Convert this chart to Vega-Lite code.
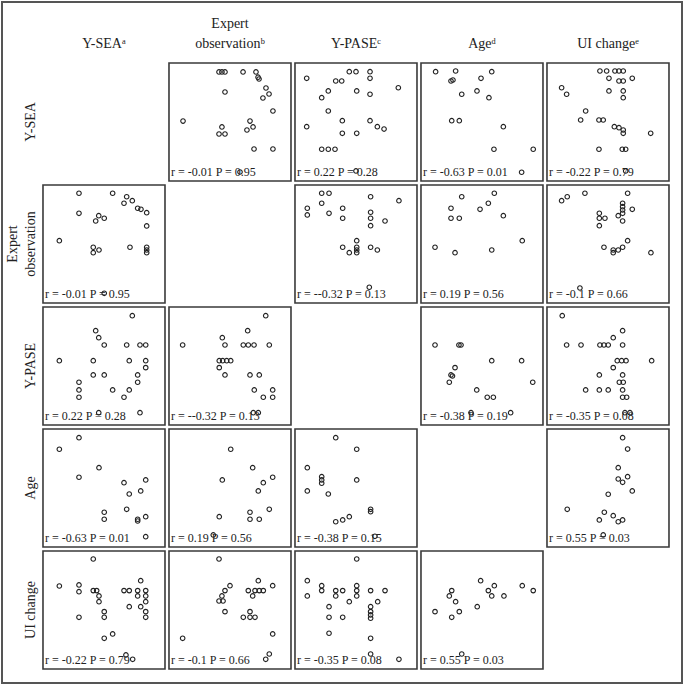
{
  "$schema": "https://vega.github.io/schema/vega-lite/v6.json",
  "width": 680,
  "height": 681,
  "autosize": {"type": "none"},
  "padding": {"left": 2, "top": 2, "right": 3, "bottom": 2},
  "background": "white",
  "resolve": {"scale": {"xOffset": "independent", "yOffset": "independent"}},
  "config": {
    "view": {"stroke": "#555555", "strokeWidth": 2},
    "font": "Liberation Serif",
    "axisX": {
      "orient": "top", "offset": -61, "domain": false, "ticks": false, "grid": false, "title": null,
      "labelAngle": 0, "labelAlign": "center", "labelBaseline": "bottom", "labelPadding": 33,
      "labelFont": "Liberation Serif", "labelFontSize": 14, "labelColor": "#222222", "labelLineHeight": 20,
      "labelOverlap": false, "labelLimit": 0
    },
    "axisY": {
      "orient": "left", "offset": -41, "domain": false, "ticks": false, "grid": false, "title": null,
      "labelAngle": -90, "labelAlign": "center", "labelBaseline": "bottom", "labelPadding": 24,
      "labelFont": "Liberation Serif", "labelFontSize": 14, "labelColor": "#222222", "labelLineHeight": 18,
      "labelOverlap": false, "labelLimit": 0
    }
  },
  "datasets": {
    "panels": [
      {"row": 0, "col": 1, "label": "r = -0.01 P = 0.95"},
      {"row": 0, "col": 2, "label": "r = 0.22 P = 0.28"},
      {"row": 0, "col": 3, "label": "r = -0.63 P = 0.01"},
      {"row": 0, "col": 4, "label": "r = -0.22 P = 0.79"},
      {"row": 1, "col": 0, "label": "r = -0.01 P = 0.95"},
      {"row": 1, "col": 2, "label": "r = --0.32 P = 0.13"},
      {"row": 1, "col": 3, "label": "r = 0.19 P = 0.56"},
      {"row": 1, "col": 4, "label": "r = -0.1 P = 0.66"},
      {"row": 2, "col": 0, "label": "r = 0.22 P = 0.28"},
      {"row": 2, "col": 1, "label": "r = --0.32 P = 0.13"},
      {"row": 2, "col": 3, "label": "r = -0.38 P = 0.19"},
      {"row": 2, "col": 4, "label": "r = -0.35 P = 0.08"},
      {"row": 3, "col": 0, "label": "r = -0.63 P = 0.01"},
      {"row": 3, "col": 1, "label": "r = 0.19 P = 0.56"},
      {"row": 3, "col": 2, "label": "r = -0.38 P = 0.15"},
      {"row": 3, "col": 4, "label": "r = 0.55 P = 0.03"},
      {"row": 4, "col": 0, "label": "r = -0.22 P = 0.79"},
      {"row": 4, "col": 1, "label": "r = -0.1 P = 0.66"},
      {"row": 4, "col": 2, "label": "r = -0.35 P = 0.08"},
      {"row": 4, "col": 3, "label": "r = 0.55 P = 0.03"}
    ],
    "pts": [
      {"row":0,"col":1,"x":0.41,"y":0.924},{"row":0,"col":1,"x":0.434,"y":0.924},{"row":0,"col":1,"x":0.459,"y":0.924},{"row":0,"col":1,"x":0.607,"y":0.924},{"row":0,"col":1,"x":0.713,"y":0.924},{"row":0,"col":1,"x":0.73,"y":0.88},{"row":0,"col":1,"x":0.738,"y":0.864},{"row":0,"col":1,"x":0.459,"y":0.754},{"row":0,"col":1,"x":0.795,"y":0.788},{"row":0,"col":1,"x":0.77,"y":0.703},{"row":0,"col":1,"x":0.82,"y":0.737},{"row":0,"col":1,"x":0.852,"y":0.593},{"row":0,"col":1,"x":0.115,"y":0.508},{"row":0,"col":1,"x":0.664,"y":0.508},{"row":0,"col":1,"x":0.434,"y":0.458},{"row":0,"col":1,"x":0.41,"y":0.398},{"row":0,"col":1,"x":0.459,"y":0.398},{"row":0,"col":1,"x":0.639,"y":0.432},{"row":0,"col":1,"x":0.689,"y":0.458},{"row":0,"col":1,"x":0.697,"y":0.271},{"row":0,"col":1,"x":0.852,"y":0.271},{"row":0,"col":1,"x":0.582,"y":0.076},
      {"row":0,"col":2,"x":0.096,"y":0.87},{"row":0,"col":2,"x":0.334,"y":0.847},{"row":0,"col":2,"x":0.383,"y":0.847},{"row":0,"col":2,"x":0.445,"y":0.926},{"row":0,"col":2,"x":0.5,"y":0.926},{"row":0,"col":2,"x":0.615,"y":0.926},{"row":0,"col":2,"x":0.615,"y":0.87},{"row":0,"col":2,"x":0.847,"y":0.79},{"row":0,"col":2,"x":0.273,"y":0.763},{"row":0,"col":2,"x":0.219,"y":0.706},{"row":0,"col":2,"x":0.506,"y":0.763},{"row":0,"col":2,"x":0.615,"y":0.735},{"row":0,"col":2,"x":0.273,"y":0.593},{"row":0,"col":2,"x":0.096,"y":0.46},{"row":0,"col":2,"x":0.388,"y":0.511},{"row":0,"col":2,"x":0.615,"y":0.511},{"row":0,"col":2,"x":0.675,"y":0.46},{"row":0,"col":2,"x":0.73,"y":0.44},{"row":0,"col":2,"x":0.388,"y":0.404},{"row":0,"col":2,"x":0.506,"y":0.404},{"row":0,"col":2,"x":0.219,"y":0.269},{"row":0,"col":2,"x":0.273,"y":0.269},{"row":0,"col":2,"x":0.328,"y":0.269},{"row":0,"col":2,"x":0.5,"y":0.085},
      {"row":0,"col":3,"x":0.12,"y":0.926},{"row":0,"col":3,"x":0.284,"y":0.932},{"row":0,"col":3,"x":0.246,"y":0.847},{"row":0,"col":3,"x":0.262,"y":0.856},{"row":0,"col":3,"x":0.58,"y":0.926},{"row":0,"col":3,"x":0.492,"y":0.87},{"row":0,"col":3,"x":0.334,"y":0.735},{"row":0,"col":3,"x":0.459,"y":0.763},{"row":0,"col":3,"x":0.557,"y":0.706},{"row":0,"col":3,"x":0.252,"y":0.511},{"row":0,"col":3,"x":0.314,"y":0.511},{"row":0,"col":3,"x":0.675,"y":0.46},{"row":0,"col":3,"x":0.598,"y":0.269},{"row":0,"col":3,"x":0.92,"y":0.269},{"row":0,"col":3,"x":0.825,"y":0.074},
      {"row":0,"col":4,"x":0.434,"y":0.932},{"row":0,"col":4,"x":0.489,"y":0.932},{"row":0,"col":4,"x":0.557,"y":0.932},{"row":0,"col":4,"x":0.59,"y":0.932},{"row":0,"col":4,"x":0.625,"y":0.932},{"row":0,"col":4,"x":0.508,"y":0.87},{"row":0,"col":4,"x":0.59,"y":0.847},{"row":0,"col":4,"x":0.625,"y":0.847},{"row":0,"col":4,"x":0.699,"y":0.87},{"row":0,"col":4,"x":0.12,"y":0.79},{"row":0,"col":4,"x":0.161,"y":0.735},{"row":0,"col":4,"x":0.508,"y":0.763},{"row":0,"col":4,"x":0.625,"y":0.763},{"row":0,"col":4,"x":0.625,"y":0.706},{"row":0,"col":4,"x":0.317,"y":0.593},{"row":0,"col":4,"x":0.276,"y":0.517},{"row":0,"col":4,"x":0.426,"y":0.517},{"row":0,"col":4,"x":0.461,"y":0.517},{"row":0,"col":4,"x":0.552,"y":0.46},{"row":0,"col":4,"x":0.59,"y":0.452},{"row":0,"col":4,"x":0.625,"y":0.432},{"row":0,"col":4,"x":0.625,"y":0.404},{"row":0,"col":4,"x":0.85,"y":0.404},{"row":0,"col":4,"x":0.426,"y":0.269},{"row":0,"col":4,"x":0.617,"y":0.269},{"row":0,"col":4,"x":0.645,"y":0.269},{"row":0,"col":4,"x":0.645,"y":0.085},
      {"row":1,"col":0,"x":0.295,"y":0.93},{"row":1,"col":0,"x":0.571,"y":0.93},{"row":1,"col":0,"x":0.686,"y":0.9},{"row":1,"col":0,"x":0.664,"y":0.845},{"row":1,"col":0,"x":0.732,"y":0.867},{"row":1,"col":0,"x":0.776,"y":0.803},{"row":1,"col":0,"x":0.803,"y":0.794},{"row":1,"col":0,"x":0.85,"y":0.765},{"row":1,"col":0,"x":0.295,"y":0.76},{"row":1,"col":0,"x":0.457,"y":0.74},{"row":1,"col":0,"x":0.432,"y":0.695},{"row":1,"col":0,"x":0.502,"y":0.718},{"row":1,"col":0,"x":0.85,"y":0.653},{"row":1,"col":0,"x":0.134,"y":0.528},{"row":1,"col":0,"x":0.412,"y":0.472},{"row":1,"col":0,"x":0.459,"y":0.449},{"row":1,"col":0,"x":0.412,"y":0.426},{"row":1,"col":0,"x":0.713,"y":0.472},{"row":1,"col":0,"x":0.85,"y":0.472},{"row":1,"col":0,"x":0.85,"y":0.449},{"row":1,"col":0,"x":0.85,"y":0.426},{"row":1,"col":0,"x":0.502,"y":0.082},
      {"row":1,"col":2,"x":0.219,"y":0.93},{"row":1,"col":2,"x":0.279,"y":0.93},{"row":1,"col":2,"x":0.219,"y":0.845},{"row":1,"col":2,"x":0.62,"y":0.9},{"row":1,"col":2,"x":0.852,"y":0.867},{"row":1,"col":2,"x":0.101,"y":0.803},{"row":1,"col":2,"x":0.101,"y":0.746},{"row":1,"col":2,"x":0.279,"y":0.76},{"row":1,"col":2,"x":0.391,"y":0.803},{"row":1,"col":2,"x":0.391,"y":0.718},{"row":1,"col":2,"x":0.62,"y":0.769},{"row":1,"col":2,"x":0.62,"y":0.718},{"row":1,"col":2,"x":0.62,"y":0.655},{"row":1,"col":2,"x":0.738,"y":0.695},{"row":1,"col":2,"x":0.506,"y":0.528},{"row":1,"col":2,"x":0.391,"y":0.472},{"row":1,"col":2,"x":0.445,"y":0.426},{"row":1,"col":2,"x":0.506,"y":0.472},{"row":1,"col":2,"x":0.506,"y":0.449},{"row":1,"col":2,"x":0.506,"y":0.426},{"row":1,"col":2,"x":0.62,"y":0.472},{"row":1,"col":2,"x":0.675,"y":0.449},{"row":1,"col":2,"x":0.609,"y":0.133},
      {"row":1,"col":3,"x":0.334,"y":0.9},{"row":1,"col":3,"x":0.601,"y":0.93},{"row":1,"col":3,"x":0.246,"y":0.803},{"row":1,"col":3,"x":0.484,"y":0.794},{"row":1,"col":3,"x":0.552,"y":0.845},{"row":1,"col":3,"x":0.246,"y":0.718},{"row":1,"col":3,"x":0.314,"y":0.718},{"row":1,"col":3,"x":0.675,"y":0.74},{"row":1,"col":3,"x":0.115,"y":0.472},{"row":1,"col":3,"x":0.279,"y":0.426},{"row":1,"col":3,"x":0.58,"y":0.449},{"row":1,"col":3,"x":0.83,"y":0.528},
      {"row":1,"col":4,"x":0.12,"y":0.867},{"row":1,"col":4,"x":0.166,"y":0.9},{"row":1,"col":4,"x":0.311,"y":0.93},{"row":1,"col":4,"x":0.661,"y":0.93},{"row":1,"col":4,"x":0.62,"y":0.845},{"row":1,"col":4,"x":0.62,"y":0.816},{"row":1,"col":4,"x":0.62,"y":0.788},{"row":1,"col":4,"x":0.62,"y":0.76},{"row":1,"col":4,"x":0.699,"y":0.794},{"row":1,"col":4,"x":0.429,"y":0.76},{"row":1,"col":4,"x":0.429,"y":0.718},{"row":1,"col":4,"x":0.475,"y":0.718},{"row":1,"col":4,"x":0.429,"y":0.655},{"row":1,"col":4,"x":0.584,"y":0.74},{"row":1,"col":4,"x":0.62,"y":0.695},{"row":1,"col":4,"x":0.661,"y":0.528},{"row":1,"col":4,"x":0.467,"y":0.472},{"row":1,"col":4,"x":0.543,"y":0.449},{"row":1,"col":4,"x":0.543,"y":0.426},{"row":1,"col":4,"x":0.584,"y":0.449},{"row":1,"col":4,"x":0.62,"y":0.472},{"row":1,"col":4,"x":0.852,"y":0.426},{"row":1,"col":4,"x":0.27,"y":0.127},
      {"row":2,"col":0,"x":0.732,"y":0.926},{"row":2,"col":0,"x":0.432,"y":0.799},{"row":2,"col":0,"x":0.457,"y":0.74},{"row":2,"col":0,"x":0.502,"y":0.678},{"row":2,"col":0,"x":0.686,"y":0.678},{"row":2,"col":0,"x":0.795,"y":0.678},{"row":2,"col":0,"x":0.842,"y":0.678},{"row":2,"col":0,"x":0.134,"y":0.545},{"row":2,"col":0,"x":0.412,"y":0.545},{"row":2,"col":0,"x":0.707,"y":0.545},{"row":2,"col":0,"x":0.842,"y":0.545},{"row":2,"col":0,"x":0.842,"y":0.486},{"row":2,"col":0,"x":0.412,"y":0.424},{"row":2,"col":0,"x":0.502,"y":0.424},{"row":2,"col":0,"x":0.776,"y":0.424},{"row":2,"col":0,"x":0.776,"y":0.362},{"row":2,"col":0,"x":0.295,"y":0.362},{"row":2,"col":0,"x":0.295,"y":0.297},{"row":2,"col":0,"x":0.295,"y":0.235},{"row":2,"col":0,"x":0.571,"y":0.297},{"row":2,"col":0,"x":0.707,"y":0.297},{"row":2,"col":0,"x":0.664,"y":0.235},{"row":2,"col":0,"x":0.795,"y":0.104},{"row":2,"col":0,"x":0.457,"y":0.104},
      {"row":2,"col":1,"x":0.793,"y":0.926},{"row":2,"col":1,"x":0.645,"y":0.799},{"row":2,"col":1,"x":0.437,"y":0.74},{"row":2,"col":1,"x":0.112,"y":0.678},{"row":2,"col":1,"x":0.459,"y":0.678},{"row":2,"col":1,"x":0.609,"y":0.678},{"row":2,"col":1,"x":0.65,"y":0.678},{"row":2,"col":1,"x":0.697,"y":0.678},{"row":2,"col":1,"x":0.822,"y":0.678},{"row":2,"col":1,"x":0.412,"y":0.545},{"row":2,"col":1,"x":0.44,"y":0.545},{"row":2,"col":1,"x":0.473,"y":0.545},{"row":2,"col":1,"x":0.506,"y":0.545},{"row":2,"col":1,"x":0.412,"y":0.486},{"row":2,"col":1,"x":0.459,"y":0.424},{"row":2,"col":1,"x":0.664,"y":0.424},{"row":2,"col":1,"x":0.74,"y":0.424},{"row":2,"col":1,"x":0.699,"y":0.297},{"row":2,"col":1,"x":0.85,"y":0.297},{"row":2,"col":1,"x":0.773,"y":0.235},{"row":2,"col":1,"x":0.85,"y":0.235},{"row":2,"col":1,"x":0.691,"y":0.104},{"row":2,"col":1,"x":0.732,"y":0.104},
      {"row":2,"col":3,"x":0.115,"y":0.678},{"row":2,"col":3,"x":0.311,"y":0.678},{"row":2,"col":3,"x":0.328,"y":0.678},{"row":2,"col":3,"x":0.58,"y":0.545},{"row":2,"col":3,"x":0.825,"y":0.545},{"row":2,"col":3,"x":0.279,"y":0.486},{"row":2,"col":3,"x":0.246,"y":0.424},{"row":2,"col":3,"x":0.258,"y":0.415},{"row":2,"col":3,"x":0.232,"y":0.362},{"row":2,"col":3,"x":0.916,"y":0.362},{"row":2,"col":3,"x":0.457,"y":0.297},{"row":2,"col":3,"x":0.543,"y":0.235},{"row":2,"col":3,"x":0.593,"y":0.235},{"row":2,"col":3,"x":0.41,"y":0.104},{"row":2,"col":3,"x":0.735,"y":0.104},
      {"row":2,"col":4,"x":0.125,"y":0.926},{"row":2,"col":4,"x":0.62,"y":0.799},{"row":2,"col":4,"x":0.543,"y":0.74},{"row":2,"col":4,"x":0.161,"y":0.678},{"row":2,"col":4,"x":0.279,"y":0.678},{"row":2,"col":4,"x":0.434,"y":0.678},{"row":2,"col":4,"x":0.467,"y":0.678},{"row":2,"col":4,"x":0.502,"y":0.678},{"row":2,"col":4,"x":0.62,"y":0.678},{"row":2,"col":4,"x":0.576,"y":0.545},{"row":2,"col":4,"x":0.612,"y":0.545},{"row":2,"col":4,"x":0.648,"y":0.545},{"row":2,"col":4,"x":0.858,"y":0.545},{"row":2,"col":4,"x":0.543,"y":0.486},{"row":2,"col":4,"x":0.429,"y":0.424},{"row":2,"col":4,"x":0.62,"y":0.424},{"row":2,"col":4,"x":0.593,"y":0.362},{"row":2,"col":4,"x":0.625,"y":0.362},{"row":2,"col":4,"x":0.317,"y":0.297},{"row":2,"col":4,"x":0.429,"y":0.297},{"row":2,"col":4,"x":0.502,"y":0.297},{"row":2,"col":4,"x":0.62,"y":0.297},{"row":2,"col":4,"x":0.62,"y":0.235},{"row":2,"col":4,"x":0.653,"y":0.235},{"row":2,"col":4,"x":0.639,"y":0.104},{"row":2,"col":4,"x":0.68,"y":0.104},
      {"row":3,"col":0,"x":0.295,"y":0.926},{"row":3,"col":0,"x":0.134,"y":0.828},{"row":3,"col":0,"x":0.459,"y":0.672},{"row":3,"col":0,"x":0.295,"y":0.591},{"row":3,"col":0,"x":0.664,"y":0.545},{"row":3,"col":0,"x":0.842,"y":0.568},{"row":3,"col":0,"x":0.707,"y":0.449},{"row":3,"col":0,"x":0.801,"y":0.475},{"row":3,"col":0,"x":0.502,"y":0.294},{"row":3,"col":0,"x":0.502,"y":0.235},{"row":3,"col":0,"x":0.686,"y":0.319},{"row":3,"col":0,"x":0.776,"y":0.235},{"row":3,"col":0,"x":0.776,"y":0.22},{"row":3,"col":0,"x":0.842,"y":0.257},{"row":3,"col":0,"x":0.842,"y":0.087},
      {"row":3,"col":1,"x":0.506,"y":0.828},{"row":3,"col":1,"x":0.437,"y":0.568},{"row":3,"col":1,"x":0.686,"y":0.672},{"row":3,"col":1,"x":0.85,"y":0.591},{"row":3,"col":1,"x":0.773,"y":0.545},{"row":3,"col":1,"x":0.732,"y":0.475},{"row":3,"col":1,"x":0.412,"y":0.257},{"row":3,"col":1,"x":0.664,"y":0.294},{"row":3,"col":1,"x":0.664,"y":0.235},{"row":3,"col":1,"x":0.74,"y":0.235},{"row":3,"col":1,"x":0.822,"y":0.319},{"row":3,"col":1,"x":0.363,"y":0.102},
      {"row":3,"col":2,"x":0.334,"y":0.926},{"row":3,"col":2,"x":0.506,"y":0.828},{"row":3,"col":2,"x":0.101,"y":0.672},{"row":3,"col":2,"x":0.219,"y":0.596},{"row":3,"col":2,"x":0.219,"y":0.568},{"row":3,"col":2,"x":0.219,"y":0.54},{"row":3,"col":2,"x":0.506,"y":0.568},{"row":3,"col":2,"x":0.101,"y":0.475},{"row":3,"col":2,"x":0.273,"y":0.449},{"row":3,"col":2,"x":0.62,"y":0.319},{"row":3,"col":2,"x":0.62,"y":0.299},{"row":3,"col":2,"x":0.334,"y":0.214},{"row":3,"col":2,"x":0.391,"y":0.229},{"row":3,"col":2,"x":0.445,"y":0.257},{"row":3,"col":2,"x":0.655,"y":0.09},
      {"row":3,"col":4,"x":0.62,"y":0.926},{"row":3,"col":4,"x":0.661,"y":0.83},{"row":3,"col":4,"x":0.584,"y":0.672},{"row":3,"col":4,"x":0.584,"y":0.576},{"row":3,"col":4,"x":0.62,"y":0.548},{"row":3,"col":4,"x":0.661,"y":0.596},{"row":3,"col":4,"x":0.699,"y":0.475},{"row":3,"col":4,"x":0.502,"y":0.447},{"row":3,"col":4,"x":0.166,"y":0.319},{"row":3,"col":4,"x":0.47,"y":0.294},{"row":3,"col":4,"x":0.429,"y":0.229},{"row":3,"col":4,"x":0.543,"y":0.265},{"row":3,"col":4,"x":0.584,"y":0.214},{"row":3,"col":4,"x":0.62,"y":0.229},{"row":3,"col":4,"x":0.461,"y":0.102},
      {"row":4,"col":0,"x":0.412,"y":0.932},{"row":4,"col":0,"x":0.134,"y":0.703},{"row":4,"col":0,"x":0.295,"y":0.712},{"row":4,"col":0,"x":0.295,"y":0.655},{"row":4,"col":0,"x":0.412,"y":0.664},{"row":4,"col":0,"x":0.44,"y":0.664},{"row":4,"col":0,"x":0.459,"y":0.619},{"row":4,"col":0,"x":0.459,"y":0.57},{"row":4,"col":0,"x":0.295,"y":0.438},{"row":4,"col":0,"x":0.502,"y":0.486},{"row":4,"col":0,"x":0.502,"y":0.438},{"row":4,"col":0,"x":0.502,"y":0.26},{"row":4,"col":0,"x":0.571,"y":0.297},{"row":4,"col":0,"x":0.664,"y":0.664},{"row":4,"col":0,"x":0.707,"y":0.664},{"row":4,"col":0,"x":0.801,"y":0.748},{"row":4,"col":0,"x":0.776,"y":0.664},{"row":4,"col":0,"x":0.776,"y":0.619},{"row":4,"col":0,"x":0.842,"y":0.664},{"row":4,"col":0,"x":0.842,"y":0.619},{"row":4,"col":0,"x":0.842,"y":0.57},{"row":4,"col":0,"x":0.707,"y":0.528},{"row":4,"col":0,"x":0.801,"y":0.528},{"row":4,"col":0,"x":0.842,"y":0.486},{"row":4,"col":0,"x":0.842,"y":0.438},{"row":4,"col":0,"x":0.68,"y":0.119},{"row":4,"col":0,"x":0.735,"y":0.082},
      {"row":4,"col":1,"x":0.41,"y":0.932},{"row":4,"col":1,"x":0.5,"y":0.706},{"row":4,"col":1,"x":0.459,"y":0.664},{"row":4,"col":1,"x":0.434,"y":0.619},{"row":4,"col":1,"x":0.41,"y":0.576},{"row":4,"col":1,"x":0.443,"y":0.576},{"row":4,"col":1,"x":0.459,"y":0.486},{"row":4,"col":1,"x":0.732,"y":0.748},{"row":4,"col":1,"x":0.85,"y":0.706},{"row":4,"col":1,"x":0.65,"y":0.664},{"row":4,"col":1,"x":0.705,"y":0.664},{"row":4,"col":1,"x":0.74,"y":0.664},{"row":4,"col":1,"x":0.773,"y":0.664},{"row":4,"col":1,"x":0.686,"y":0.619},{"row":4,"col":1,"x":0.664,"y":0.486},{"row":4,"col":1,"x":0.609,"y":0.438},{"row":4,"col":1,"x":0.664,"y":0.438},{"row":4,"col":1,"x":0.705,"y":0.438},{"row":4,"col":1,"x":0.112,"y":0.26},{"row":4,"col":1,"x":0.85,"y":0.297},{"row":4,"col":1,"x":0.822,"y":0.127},{"row":4,"col":1,"x":0.793,"y":0.082},
      {"row":4,"col":2,"x":0.506,"y":0.932},{"row":4,"col":2,"x":0.101,"y":0.748},{"row":4,"col":2,"x":0.101,"y":0.619},{"row":4,"col":2,"x":0.219,"y":0.706},{"row":4,"col":2,"x":0.219,"y":0.664},{"row":4,"col":2,"x":0.334,"y":0.664},{"row":4,"col":2,"x":0.334,"y":0.619},{"row":4,"col":2,"x":0.391,"y":0.664},{"row":4,"col":2,"x":0.506,"y":0.706},{"row":4,"col":2,"x":0.506,"y":0.664},{"row":4,"col":2,"x":0.506,"y":0.619},{"row":4,"col":2,"x":0.62,"y":0.664},{"row":4,"col":2,"x":0.738,"y":0.664},{"row":4,"col":2,"x":0.678,"y":0.57},{"row":4,"col":2,"x":0.445,"y":0.57},{"row":4,"col":2,"x":0.279,"y":0.528},{"row":4,"col":2,"x":0.279,"y":0.438},{"row":4,"col":2,"x":0.391,"y":0.438},{"row":4,"col":2,"x":0.279,"y":0.303},{"row":4,"col":2,"x":0.62,"y":0.528},{"row":4,"col":2,"x":0.62,"y":0.486},{"row":4,"col":2,"x":0.62,"y":0.458},{"row":4,"col":2,"x":0.62,"y":0.43},{"row":4,"col":2,"x":0.62,"y":0.26},{"row":4,"col":2,"x":0.62,"y":0.127},{"row":4,"col":2,"x":0.852,"y":0.082},
      {"row":4,"col":3,"x":0.115,"y":0.486},{"row":4,"col":3,"x":0.252,"y":0.664},{"row":4,"col":3,"x":0.232,"y":0.619},{"row":4,"col":3,"x":0.284,"y":0.57},{"row":4,"col":3,"x":0.252,"y":0.438},{"row":4,"col":3,"x":0.314,"y":0.486},{"row":4,"col":3,"x":0.334,"y":0.127},{"row":4,"col":3,"x":0.461,"y":0.528},{"row":4,"col":3,"x":0.489,"y":0.748},{"row":4,"col":3,"x":0.552,"y":0.664},{"row":4,"col":3,"x":0.601,"y":0.706},{"row":4,"col":3,"x":0.58,"y":0.619},{"row":4,"col":3,"x":0.68,"y":0.619},{"row":4,"col":3,"x":0.83,"y":0.706},{"row":4,"col":3,"x":0.92,"y":0.664}
    ]
  },
  "layer": [
    {
      "data": {"name": "panels"},
      "mark": {"type": "rect", "filled": false, "stroke": "#3a3a3a", "strokeWidth": 1.6},
      "encoding": {
        "x": {
          "field": "col", "type": "ordinal",
          "scale": {"type": "band", "domain": [0, 1, 2, 3, 4], "paddingInner": 0.0317, "paddingOuter": 0.2143, "align": 0.759},
          "axis": {"labelExpr": "[['', 'Y-SEAᵃ'], ['Expert', 'observationᵇ'], ['', 'Y-PASEᶜ'], ['', 'Ageᵈ'], ['', 'UI changeᵉ']][datum.value]"}
        },
        "y": {
          "field": "row", "type": "ordinal",
          "scale": {"type": "band", "domain": [0, 1, 2, 3, 4], "paddingInner": 0.0328, "paddingOuter": 0.3074, "align": 0.813},
          "axis": {"labelExpr": "[['', 'Y-SEA'], ['Expert', 'observation'], ['', 'Y-PASE'], ['', 'Age'], ['', 'UI change']][datum.value]"}
        }
      }
    },
    {
      "data": {"name": "pts"},
      "mark": {"type": "point", "shape": "circle", "filled": false, "size": 21, "strokeWidth": 1.1, "color": "#222222", "opacity": 1},
      "encoding": {
        "x": {"field": "col", "type": "ordinal", "scale": {"type": "band"}, "axis": {"labelExpr": "[['', 'Y-SEAᵃ'], ['Expert', 'observationᵇ'], ['', 'Y-PASEᶜ'], ['', 'Ageᵈ'], ['', 'UI changeᵉ']][datum.value]"}},
        "xOffset": {"field": "x", "type": "quantitative", "scale": {"domain": [0, 1], "nice": false, "zero": false}},
        "y": {"field": "row", "type": "ordinal", "scale": {"type": "band"}, "axis": {"labelExpr": "[['', 'Y-SEA'], ['Expert', 'observation'], ['', 'Y-PASE'], ['', 'Age'], ['', 'UI change']][datum.value]"}},
        "yOffset": {"field": "y", "type": "quantitative", "scale": {"domain": [0, 1], "nice": false, "zero": false, "reverse": true}}
      }
    },
    {
      "data": {"name": "panels"},
      "mark": {"type": "text", "align": "left", "baseline": "alphabetic", "dx": 2, "dy": -5, "font": "Liberation Serif", "fontSize": 12, "color": "#222222"},
      "encoding": {
        "x": {"field": "col", "type": "ordinal", "scale": {"type": "band"}, "bandPosition": 0, "axis": {"labelExpr": "[['', 'Y-SEAᵃ'], ['Expert', 'observationᵇ'], ['', 'Y-PASEᶜ'], ['', 'Ageᵈ'], ['', 'UI changeᵉ']][datum.value]"}},
        "y": {"field": "row", "type": "ordinal", "scale": {"type": "band"}, "bandPosition": 1, "axis": {"labelExpr": "[['', 'Y-SEA'], ['Expert', 'observation'], ['', 'Y-PASE'], ['', 'Age'], ['', 'UI change']][datum.value]"}},
        "text": {"field": "label"}
      }
    }
  ]
}
